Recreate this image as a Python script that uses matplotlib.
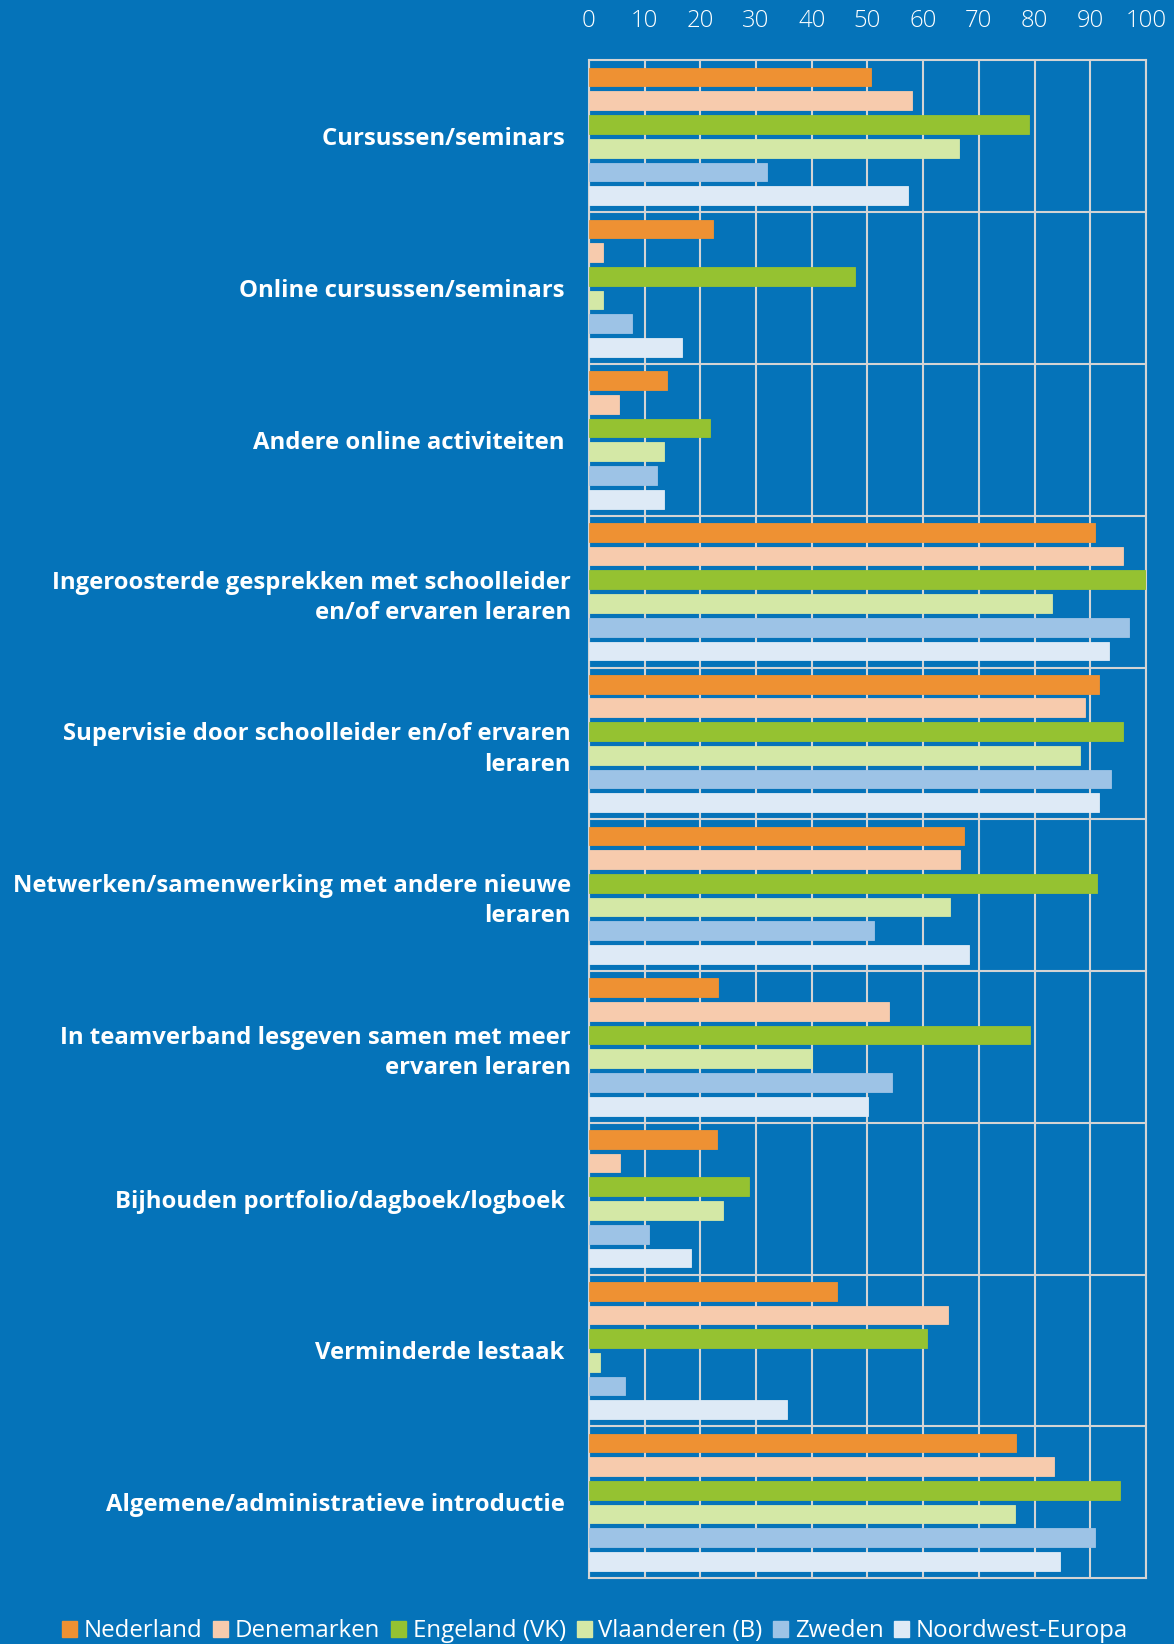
import numpy as np
import matplotlib
matplotlib.use("Agg")
import matplotlib.pyplot as plt
from matplotlib.patches import Patch

plt.rcParams['font.family'] = ['Open Sans', 'DejaVu Sans']

# --- Data ---
categories = [
    "Cursussen/seminars ",
    "Online cursussen/seminars ",
    "Andere online activiteiten ",
    "Ingeroosterde gesprekken met schoolleider\nen/of ervaren leraren",
    "Supervisie door schoolleider en/of ervaren\nleraren",
    "Netwerken/samenwerking met andere nieuwe\nleraren",
    "In teamverband lesgeven samen met meer\nervaren leraren",
    "Bijhouden portfolio/dagboek/logboek ",
    "Verminderde lestaak ",
    "Algemene/administratieve introductie ",
]
countries = ["Nederland", "Denemarken", "Engeland (VK)", "Vlaanderen (B)",
             "Zweden", "Noordwest-Europa"]

nederland = [50.7, 22.2, 14.0, 90.8, 91.5, 67.4, 23.1, 23.0, 44.6, 76.6]
denemarken = [58.0, 2.6, 5.4, 95.8, 89.0, 66.7, 53.9, 5.5, 64.4, 83.5]
engeland = [79.0, 47.8, 21.8, 100.0, 95.9, 91.2, 79.1, 28.8, 60.7, 95.4]
vlaanderen = [66.5, 2.6, 13.5, 83.1, 88.2, 64.8, 40.0, 24.1, 2.0, 76.4]
zweden = [31.9, 7.8, 12.2, 96.9, 93.8, 51.1, 54.4, 10.7, 6.5, 90.8]
nw_europa = [57.2, 16.7, 13.4, 93.3, 91.6, 68.2, 50.1, 18.4, 35.6, 84.5]

series = [nederland, denemarken, engeland, vlaanderen, zweden, nw_europa]
colors = ["#ee9133", "#f7cbad", "#95c231", "#d4e8a6", "#9dc3e6", "#deeaf6"]
xticks = [0, 10, 20, 30, 40, 50, 60, 70, 80, 90, 100]

bg = "#0573b9"
grid_col = "#d4d4d4"

fig = plt.figure(figsize=(11.74, 16.44), dpi=100, facecolor=bg)
ax = fig.add_axes([0.5017, 0.0401, 0.4744, 0.9231])
ax.set_facecolor(bg)

# bars: 6 per category, slot spacing within each unit block
slot = 0.1562
bar_h = 0.1233
base = np.arange(len(categories)) + 0.5
for j, (vals, col) in enumerate(zip(series, colors)):
    ax.barh(base + (j - 2.5) * slot, vals, height=bar_h, color=col,
            edgecolor=col, linewidth=0.6, zorder=3)

ax.set_xlim(0, 100)
ax.set_ylim(len(categories), 0)

# axes on top
ax.xaxis.tick_top()
ax.set_xticks(xticks)
ax.set_xticklabels([str(t) for t in xticks], fontweight="light")
ax.tick_params(axis="x", length=0, pad=20, labelsize=17.2, colors="white")

ax.set_yticks(base)
ax.set_yticklabels(categories, fontweight="bold", linespacing=1.35)
ax.tick_params(axis="y", which="major", length=0, pad=13, labelsize=17.2,
               colors="white")
ax.set_yticks(np.arange(1, len(categories)), minor=True)
ax.tick_params(axis="y", which="minor", length=0)

# Grid
ax.grid(axis="x", color=grid_col, linewidth=1.5, zorder=0)
ax.grid(axis="y", which="minor", color=grid_col, linewidth=1.5, zorder=0)
ax.set_axisbelow(True)
for s in ax.spines.values():
    s.set_color(grid_col)
    s.set_linewidth(1.5)

# Legend
handles = [Patch(facecolor=c, edgecolor=c, label=n) for c, n in zip(colors, countries)]
fig.legend(handles=handles, loc="center", bbox_to_anchor=(0.507, 0.0078),
           ncol=6, frameon=False, fontsize=17.3, labelcolor="white",
           handlelength=0.62, handleheight=0.62, handletextpad=0.28,
           columnspacing=0.45, borderaxespad=0)

fig.savefig("out.png", dpi=100, facecolor=bg)
